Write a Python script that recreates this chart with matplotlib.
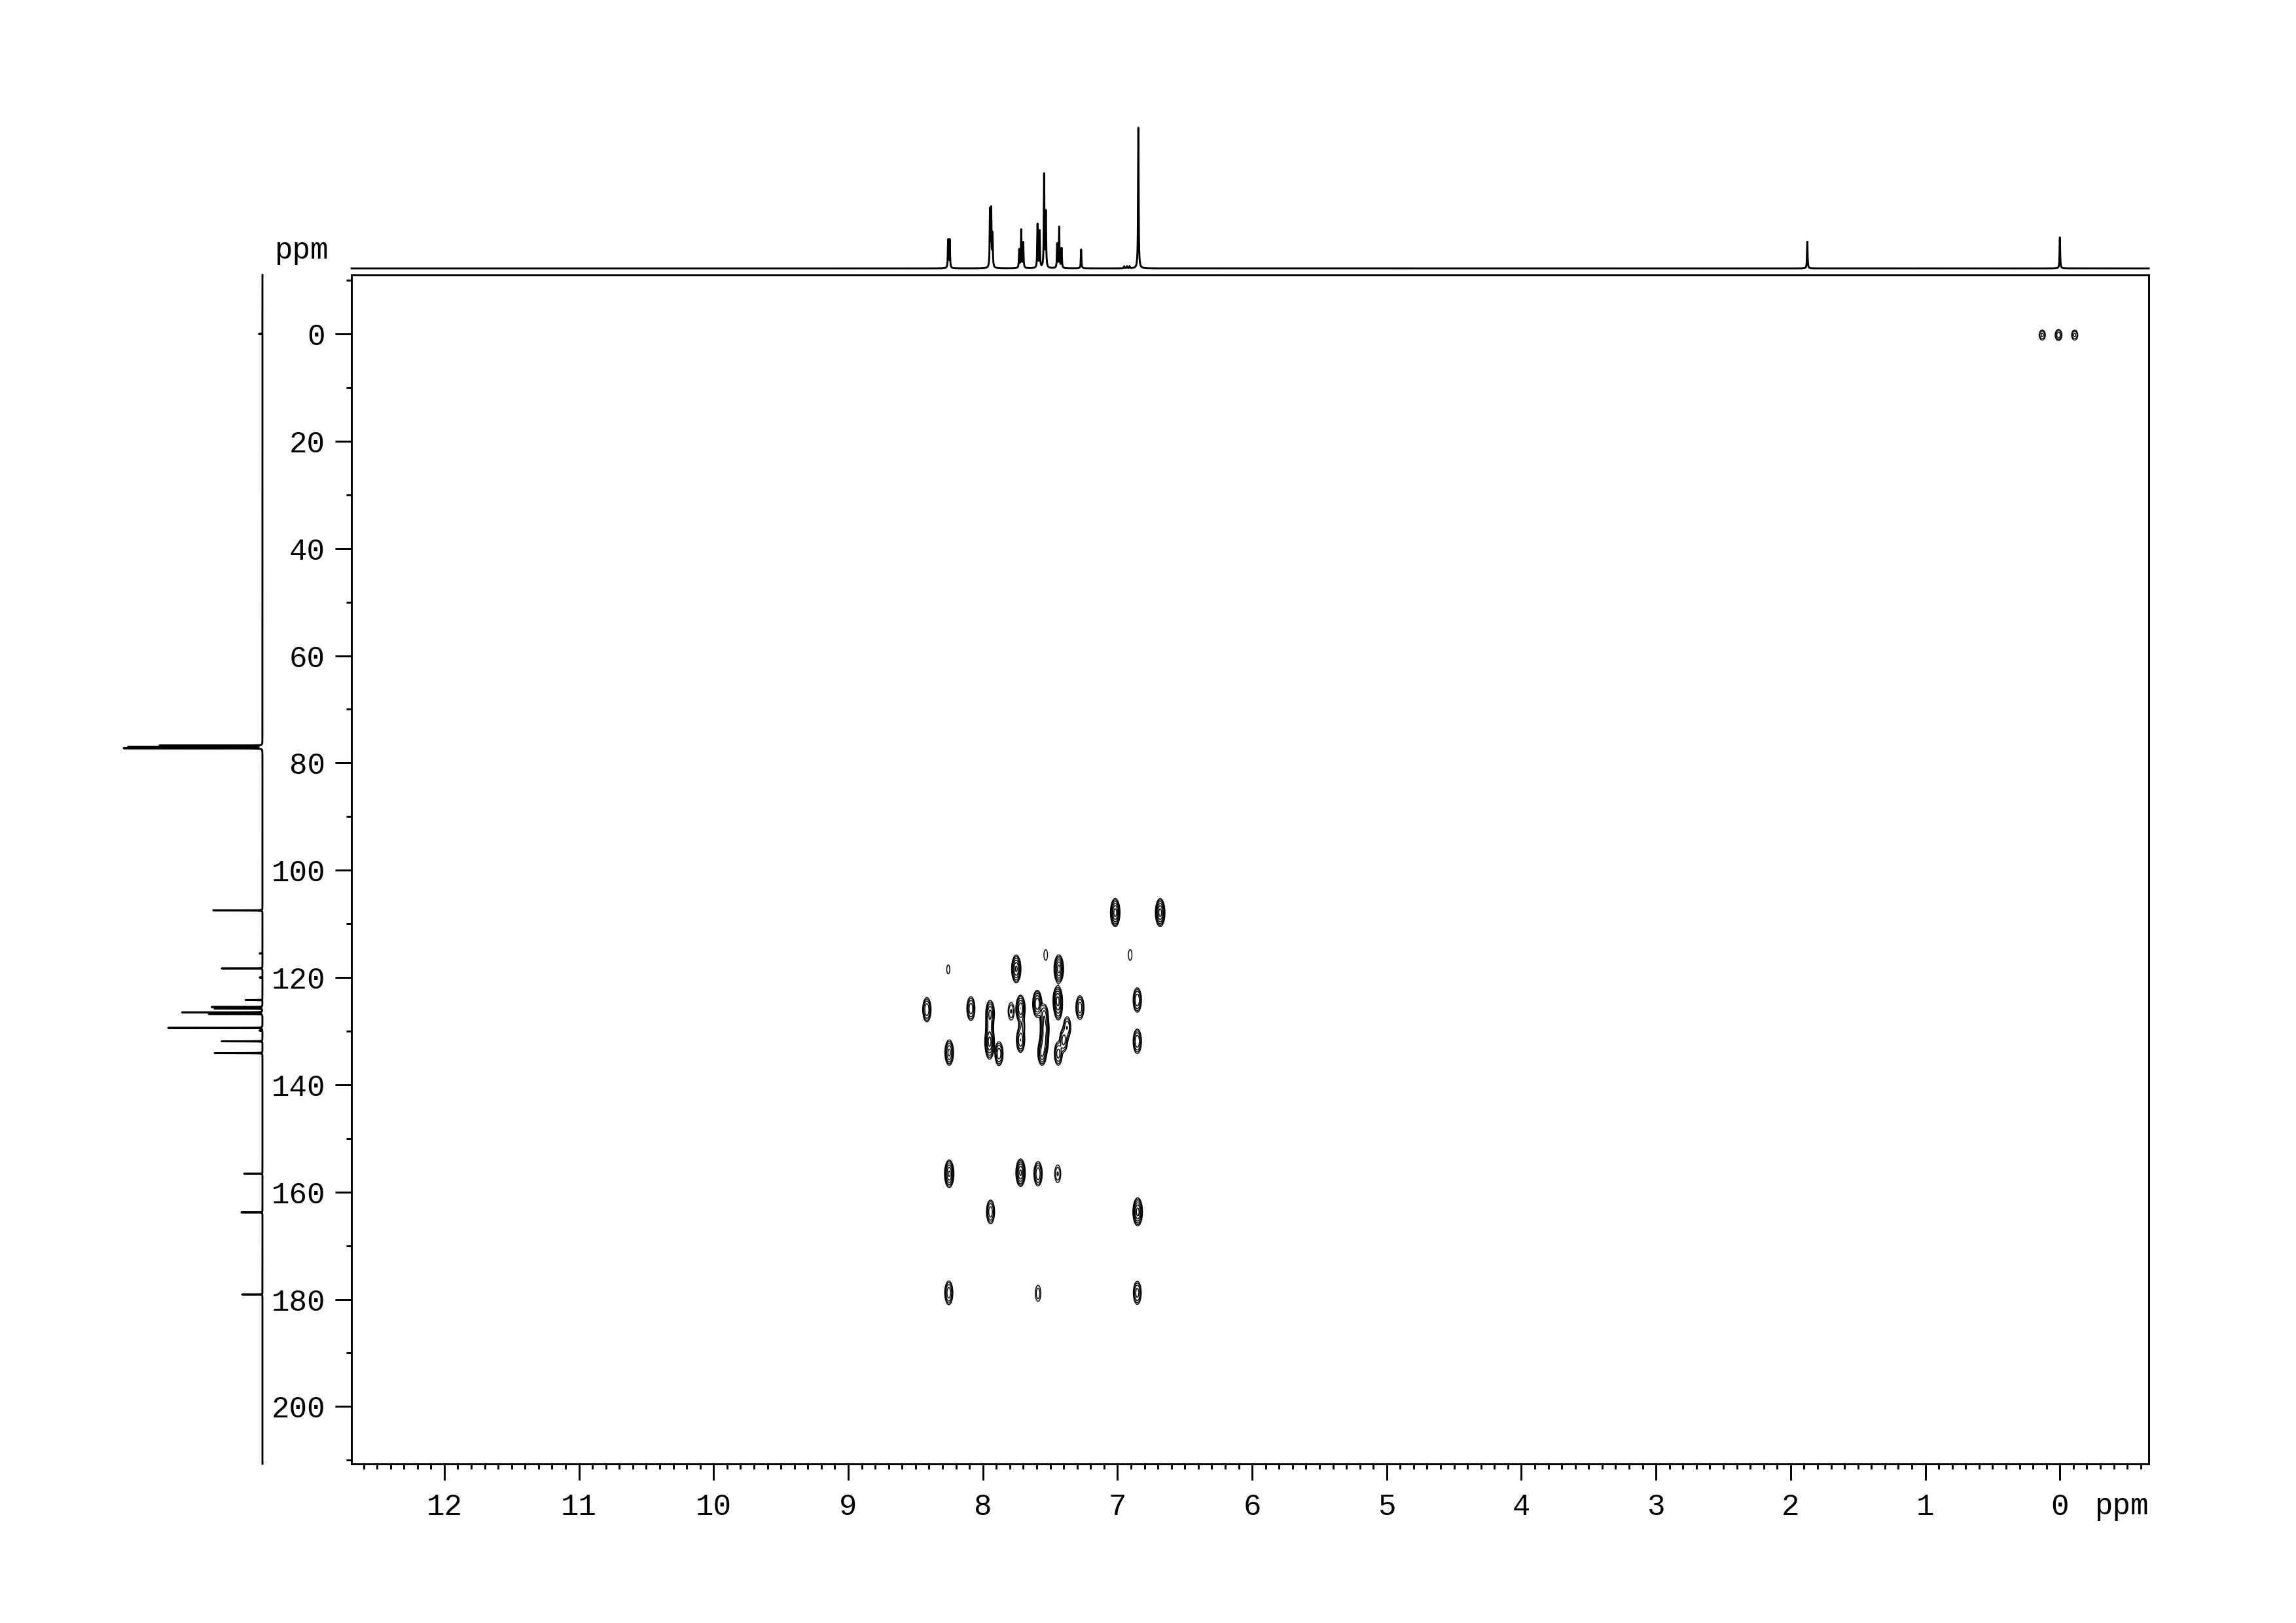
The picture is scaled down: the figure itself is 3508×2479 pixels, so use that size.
import numpy as np
import matplotlib.pyplot as plt
from matplotlib.ticker import MultipleLocator

plt.rcParams['font.family'] = ['Liberation Mono', 'DejaVu Sans Mono']
plt.rcParams['font.size'] = 11

# 1H projection (top): shift in ppm, height relative to tallest line
h_shift = [8.258, 8.246, 7.947, 7.938, 7.928, 7.730, 7.715, 7.700, 7.594, 7.578,
           7.545, 7.532, 7.448, 7.433, 7.415, 7.270, 6.950, 6.930, 6.910, 6.845,
           1.876, 0.000]
h_height = [0.20, 0.20, 0.40, 0.40, 0.23, 0.13, 0.27, 0.18, 0.31, 0.26,
            0.66, 0.39, 0.17, 0.29, 0.14, 0.135, 0.015, 0.015, 0.015, 1.00,
            0.19, 0.22]

# 13C projection (left)
c_shift = [0.0, 76.75, 77.0, 77.25, 107.5, 115.5, 118.3, 120.0, 124.2, 125.5,
           125.8, 126.5, 126.8, 129.4, 129.9, 131.9, 134.1, 156.6, 163.8, 179.1]
c_height = [0.025, 0.74, 0.95, 1.00, 0.35, 0.02, 0.29, 0.02, 0.12, 0.36,
            0.34, 0.57, 0.38, 0.67, 0.02, 0.29, 0.34, 0.13, 0.15, 0.145]

# HMBC cross peaks: 1H shift, 13C shift, amplitude
xp_h = [7.017, 6.683, 7.533, 6.906, 8.257, 7.752, 7.436,
        8.416, 8.089, 7.946, 7.790, 7.720, 7.596, 7.444, 7.440, 7.279, 6.853,
        7.545, 7.540, 7.545, 7.560, 7.710, 7.720, 7.950, 7.950, 7.950, 7.950,
        7.880, 8.250, 7.374, 7.400, 7.440, 6.853,
        8.250, 7.720, 7.590, 7.444, 7.943, 6.850, 8.253, 7.590, 6.853,
        0.131, 0.010, -0.110]
xp_c = [107.9, 107.9, 115.8, 115.8, 118.5, 118.4, 118.4,
        126.0, 125.8, 126.6, 126.3, 125.8, 124.9, 124.2, 125.9, 125.6, 124.2,
        127.2, 129.6, 132.0, 134.0, 129.0, 131.7, 128.6, 129.6, 131.9, 133.4,
        134.2, 134.0, 129.3, 131.7, 134.2, 131.9,
        156.6, 156.4, 156.6, 156.6, 163.7, 163.7, 178.8, 178.9, 178.8,
        0.2, 0.2, 0.2]
xp_amp = [1.0, 1.0, 0.09, 0.09, 0.08, 0.9, 1.0,
          0.5, 0.45, 0.55, 0.18, 0.8, 0.8, 0.9, 0.3, 0.45, 0.5,
          0.45, 0.6, 0.55, 0.6, 0.15, 0.5, 0.2, 0.2, 0.9, 0.2,
          0.45, 0.6, 0.3, 0.4, 0.4, 0.5,
          0.9, 0.9, 0.5, 0.18, 0.45, 1.0, 0.45, 0.15, 0.4,
          0.2, 0.25, 0.2]

W, H = 3508, 2479
fig = plt.figure(figsize=(W / 300, H / 300), dpi=300)

ax = fig.add_axes([537 / W, 1 - 2236 / H, 2746 / W, 1816 / H])
ax_top = fig.add_axes([537 / W, 1 - 410 / H, 2746 / W, 260 / H])
ax_left = fig.add_axes([100 / W, 1 - 2236 / H, 301 / W, 1816 / H])

xlim = (12.69, -0.66)
ylim = (210.7, -11.0)

# top 1H trace
hx = np.arange(xlim[1], xlim[0], 0.0005)
hy = np.zeros_like(hx)
for s, a in zip(h_shift, h_height):
    hy += a / (1 + ((hx - s) / 0.0025) ** 2)
ax_top.plot(hx, hy, color='black', lw=0.7, clip_on=False)
ax_top.set_xlim(xlim)
ax_top.set_ylim(0, 260 / 215)
ax_top.axis('off')

# left 13C trace
cy = np.arange(ylim[1], ylim[0], 0.004)
cx = np.zeros_like(cy)
for s, a in zip(c_shift, c_height):
    cx += a / (1 + ((cy - s) / 0.015) ** 2)
ax_left.plot(cx, cy, color='black', lw=0.7, clip_on=False)
ax_left.set_ylim(ylim)
ax_left.set_xlim(301 / 215, 0)
ax_left.axis('off')

# 2D contour map
gx = np.arange(xlim[1], xlim[0], 0.004)
gy = np.arange(ylim[1], ylim[0], 0.25)
Z = np.zeros((len(gy), len(gx)))
for h, c, a in zip(xp_h, xp_c, xp_amp):
    sc = 0.6 if c < 5 else 1.1
    Z += a * np.outer(np.exp(-0.5 * ((gy - c) / sc) ** 2),
                      np.exp(-0.5 * ((gx - h) / 0.015) ** 2))
ax.contour(gx, gy, Z, levels=[0.06, 0.1, 0.17, 0.3, 0.5, 0.8], colors='black',
           linewidths=0.35)

ax.set_xlim(xlim)
ax.set_ylim(ylim)
for sp in ax.spines.values():
    sp.set_linewidth(0.7)
ax.xaxis.set_major_locator(MultipleLocator(1))
ax.xaxis.set_minor_locator(MultipleLocator(0.1))
ax.yaxis.set_major_locator(MultipleLocator(20))
ax.yaxis.set_minor_locator(MultipleLocator(10))
ax.tick_params(which='major', direction='out', length=6, width=0.7)
ax.tick_params(which='minor', direction='out', length=2, width=0.7)
ax.tick_params(axis='x', pad=4.5)
ax.tick_params(axis='y', pad=3.6)
ax.set_xticks(range(0, 13))
ax.set_xticklabels([str(v) for v in range(0, 13)])
ax.set_yticks(range(0, 201, 20))

fig.text(3283 / W, 1 - 2313 / H, 'ppm', ha='right', va='baseline')
fig.text(502 / W, 1 - 395 / H, 'ppm', ha='right', va='baseline')

fig.savefig('out.png', dpi=300)
